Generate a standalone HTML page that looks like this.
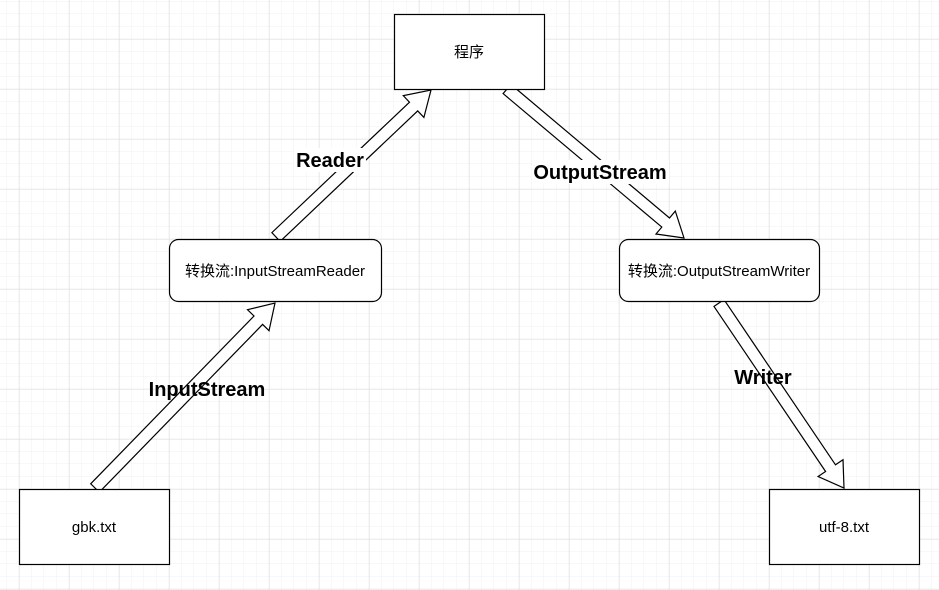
<!DOCTYPE html>
<html><head><meta charset="utf-8"><style>
body{margin:0;width:939px;height:590px;overflow:hidden;background:#fff;}
svg{position:absolute;left:0;top:0}
text{font-family:"Liberation Sans","Noto Sans CJK SC",sans-serif}
</style></head><body>
<svg id="s" width="939" height="590" xmlns="http://www.w3.org/2000/svg">
<defs>
<pattern id="minor" x="6.5" y="1.5" width="12.5" height="12.5" patternUnits="userSpaceOnUse"><path d="M12.5 0V12.5M0 12.5H12.5" stroke="#f0f0f0" stroke-width="1" fill="none"/></pattern>
<pattern id="major" x="19.5" y="39.5" width="50" height="50" patternUnits="userSpaceOnUse"><path d="M0 0V50M0 0H50" stroke="#dcdcdc" stroke-width="1" fill="none"/></pattern>
</defs>
<rect width="939" height="590" fill="url(#minor)"/>
<rect width="939" height="590" fill="url(#major)"/>
<g id="arrows" fill="#fff" stroke="#000" stroke-width="1.2"></g>
<g fill="#fff" stroke="#000" stroke-width="1.2">
<rect x="394.5" y="14.5" width="150" height="75"/>
<rect x="169.5" y="239.5" width="212" height="62" rx="9"/>
<rect x="619.5" y="239.5" width="200" height="62" rx="9"/>
<rect x="19.5" y="489.5" width="150" height="75"/>
<rect x="769.5" y="489.5" width="150" height="75"/>
</g>
<g font-size="15" text-anchor="middle" fill="#000">
<text x="469" y="57">程序</text>
<text x="275" y="276">转换流:InputStreamReader</text>
<text x="719" y="276">转换流:OutputStreamWriter</text>
<text x="94" y="532">gbk.txt</text>
<text x="844" y="532">utf-8.txt</text>
</g>
<g font-size="20" font-weight="bold" text-anchor="middle">
<rect x="294" y="148" width="72" height="24" fill="#fff"/>
<text x="330" y="167">Reader</text>
<rect x="532" y="160" width="137" height="24" fill="#fff"/>
<text x="600" y="179">OutputStream</text>
<text x="207" y="396">InputStream</text>
<text x="763" y="384">Writer</text>
</g>
</svg>
<script>
function arrow(x1,y1,x2,y2){
 var bw=6,hw=15,hl=24;
 var dx=x2-x1,dy=y2-y1,L=Math.hypot(dx,dy),ux=dx/L,uy=dy/L,px=-uy,py=ux;
 var bx=x2-ux*hl,by=y2-uy*hl;
 var pts=[[x1+px*bw,y1+py*bw],[bx+px*bw,by+py*bw],[bx+px*hw,by+py*hw],[x2,y2],[bx-px*hw,by-py*hw],[bx-px*bw,by-py*bw],[x1-px*bw,y1-py*bw]];
 var p=document.createElementNS("http://www.w3.org/2000/svg","polygon");
 p.setAttribute("points",pts.map(function(a){return a[0].toFixed(1)+","+a[1].toFixed(1)}).join(" "));
 document.getElementById("arrows").appendChild(p);
}
arrow(95,488,275,303);
arrow(276,237,431,90);
arrow(507,89,684,238);
arrow(719,303,844,488);
</script>
</body></html>
